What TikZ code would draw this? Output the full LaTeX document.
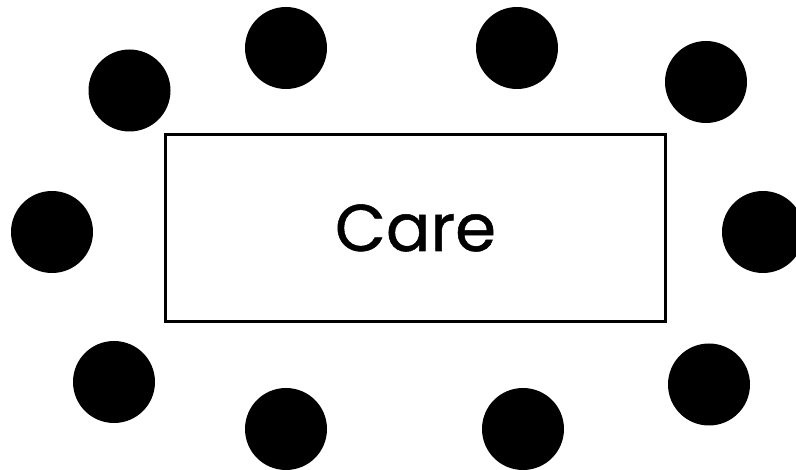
\documentclass[tikz,border=0pt]{standalone}
\usepackage{fontspec}
\setmainfont{Poppins}
\newfontfamily\carefont{Poppins}[UprightFeatures={FakeBold=0.8}]
\usetikzlibrary{positioning}
\tikzset{
  table box/.style={draw=black,line width=3pt,minimum width=500pt,minimum height=187pt,
    inner sep=0pt,font=\carefont\fontsize{66}{70}\selectfont},
  seat/.style={circle,fill=black,minimum size=82pt,inner sep=0pt},
}
\begin{document}
\begin{tikzpicture}[x=1pt,y=-1pt]
  \useasboundingbox (0,0) rectangle (796,470);
  \node[table box] (care) at (415.5,228) {Care};
  % seats round the table
  \foreach \name/\x/\y in {tl/129.5/90.5, t1/286/48, t2/517/48, tr/706/82,
      l/52/232, r/763/232,
      bl/114/382, b1/286/429, b2/523/429, br/709/384.5}
    \node[seat] (seat-\name) at (\x,\y) {};
\end{tikzpicture}
\end{document}
